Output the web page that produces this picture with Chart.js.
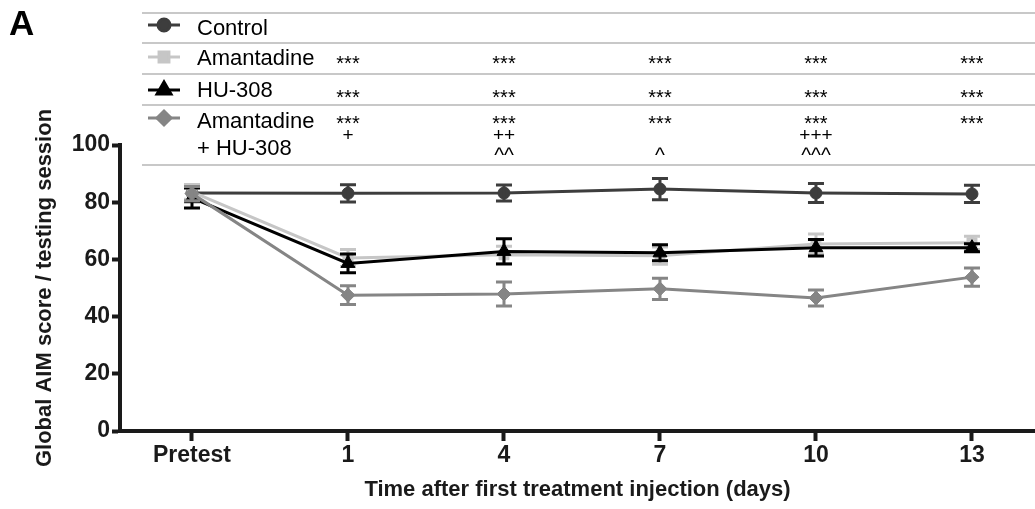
<!DOCTYPE html>
<html>
<head>
<meta charset="utf-8">
<script src="https://cdn.jsdelivr.net/npm/chart.js@4.4.1/dist/chart.umd.min.js"></script>
<style>
    html, body { margin: 0; padding: 0; background: #fff; }
</style>
</head>
<body>
<canvas id="aimChart" width="1035" height="509"></canvas>
<script>
// Categories (x axis)
const days = ['Pretest', '1', '4', '7', '10', '13'];

// Series names
const seriesNames = ['Control', 'Amantadine', 'HU-308', ['Amantadine', '+ HU-308']];

// Mean global AIM scores and SEM
const controlMean = [83.2, 83.1, 83.2, 84.6, 83.2, 82.9];
const controlErr = [3.0, 3.0, 2.8, 3.7, 3.3, 3.0];
const amantadineMean = [83.6, 60.5, 61.6, 61.3, 65.4, 65.8];
const amantadineErr = [2.6, 3.0, 3.0, 3.0, 3.5, 2.3];
const hu308Mean = [81.5, 58.6, 62.8, 62.3, 64.1, 64.1];
const hu308Err = [3.5, 3.3, 4.4, 2.8, 2.9, 1.4];
const comboMean = [83.0, 47.5, 47.9, 49.7, 46.5, 53.8];
const comboErr = [2.5, 3.3, 4.2, 3.7, 2.8, 3.2];

// Significance markers per day
const sigAmantadine = ['', '***', '***', '***', '***', '***'];
const sigHu308 = ['', '***', '***', '***', '***', '***'];
const sigCombo = ['', '***', '***', '***', '***', '***'];
const sigComboPlus = ['', '+', '++', '', '+++', ''];
const sigComboCaret = ['', '', '^^', '^', '^^^', ''];

const FONT = "'Liberation Sans', Arial, Helvetica, sans-serif";
const INK = '#1a1a1a';

function toPoints(values) {
    return values.map((v, i) => ({ x: i, y: v }));
}

// Error bars drawn right after each dataset, using the chart scales
const errorBars = {
    id: 'errorBars',
    afterDatasetDraw(chart, args) {
        const ds = chart.data.datasets[args.index];
        if (!ds.errors) return;
        const ctx = chart.ctx;
        const xs = chart.scales.x, ys = chart.scales.y;
        ctx.save();
        ctx.strokeStyle = ds.borderColor;
        ctx.lineWidth = 3;
        ds.data.forEach((p, i) => {
            const e = ds.errors[i];
            const px = xs.getPixelForValue(p.x);
            const top = ys.getPixelForValue(p.y + e);
            const bot = ys.getPixelForValue(p.y - e);
            ctx.beginPath();
            ctx.moveTo(px, top); ctx.lineTo(px, bot);
            ctx.moveTo(px - 8, top); ctx.lineTo(px + 8, top);
            ctx.moveTo(px - 8, bot); ctx.lineTo(px + 8, bot);
            ctx.stroke();
        });
        ctx.restore();
    }
};

// Legend table with significance symbols above the plot
const legendTable = {
    id: 'legendTable',
    afterDraw(chart) {
        const ctx = chart.ctx;
        const xs = chart.scales.x;
        ctx.save();

        // panel letter
        ctx.fillStyle = '#000';
        ctx.font = 'bold 35px ' + FONT;
        ctx.textBaseline = 'alphabetic';
        ctx.textAlign = 'left';
        ctx.fillText('A', 9, 35);

        // separator lines
        ctx.strokeStyle = '#c8c8c8';
        ctx.lineWidth = 2;
        [13, 43, 74, 105, 165].forEach(y => {
            ctx.beginPath();
            ctx.moveTo(142, y);
            ctx.lineTo(1035, y);
            ctx.stroke();
        });

        // rows: marker + label
        const rows = [
            { y: 25, base: 35 },
            { y: 57, base: 65 },
            { y: 90, base: 97 },
            { y: 118, base: 128 }
        ];
        chart.data.datasets.forEach((ds, i) => {
            const r = rows[i];
            ctx.strokeStyle = ds.borderColor;
            ctx.fillStyle = ds.backgroundColor;
            ctx.lineWidth = 3;
            ctx.beginPath();
            ctx.moveTo(148, r.y);
            ctx.lineTo(180, r.y);
            ctx.stroke();
            Chart.helpers.drawPoint(ctx, {
                pointStyle: ds.pointStyle,
                radius: ds.pointRadius,
                rotation: 0,
                borderWidth: 1
            }, 164, r.y);
            ctx.fillStyle = '#000';
            ctx.font = '22px ' + FONT;
            const label = [].concat(seriesNames[i]);
            label.forEach((t, k) => ctx.fillText(t, 197, r.base + k * 27));
        });

        // significance symbols
        ctx.textAlign = 'center';
        ctx.fillStyle = '#000';
        days.forEach((d, i) => {
            const px = xs.getPixelForValue(i);
            ctx.font = '20px ' + FONT;
            ctx.fillText(sigAmantadine[i], px, 70);
            ctx.fillText(sigHu308[i], px, 104);
            ctx.fillText(sigCombo[i], px, 130);
            ctx.font = '19px ' + FONT;
            ctx.fillText(sigComboPlus[i], px, 141);
            ctx.font = '21px ' + FONT;
            ctx.fillText(sigComboCaret[i], px, 162);
        });
        ctx.restore();
    }
};

const ctx = document.getElementById('aimChart').getContext('2d');

new Chart(ctx, {
    type: 'line',
    data: {
        datasets: [
            {
                label: 'Control',
                data: toPoints(controlMean),
                errors: controlErr,
                borderColor: '#3d3d3d',
                backgroundColor: '#3d3d3d',
                pointStyle: 'circle',
                pointRadius: 6,
                order: 3
            },
            {
                label: 'Amantadine',
                data: toPoints(amantadineMean),
                errors: amantadineErr,
                borderColor: '#c6c6c6',
                backgroundColor: '#c6c6c6',
                pointStyle: 'rect',
                pointRadius: 7,
                order: 2
            },
            {
                label: 'HU-308',
                data: toPoints(hu308Mean),
                errors: hu308Err,
                borderColor: '#000000',
                backgroundColor: '#000000',
                pointStyle: 'triangle',
                pointRadius: 8,
                order: 1
            },
            {
                label: 'Amantadine + HU-308',
                data: toPoints(comboMean),
                errors: comboErr,
                borderColor: '#858585',
                backgroundColor: '#858585',
                pointStyle: 'rectRot',
                pointRadius: 7,
                order: 0
            }
        ]
    },
    options: {
        responsive: false,
        animation: false,
        devicePixelRatio: 1,
        layout: {
            autoPadding: false,
            padding: { top: 145, right: 0, left: 0, bottom: 0 }
        },
        elements: {
            line: { borderWidth: 3, tension: 0, fill: false },
            point: { borderWidth: 1, hoverRadius: 6 }
        },
        plugins: {
            legend: { display: false },
            tooltip: { enabled: false }
        },
        scales: {
            x: {
                type: 'linear',
                min: -0.4615,
                max: 5.404,
                afterBuildTicks: scale => {
                    scale.ticks = days.map((d, i) => ({ value: i }));
                },
                afterFit: scale => {
                    scale.height = 78;
                    scale.paddingLeft = 0;
                    scale.paddingRight = 0;
                },
                border: { width: 4, color: INK },
                grid: { drawOnChartArea: false, tickLength: 10, tickWidth: 4, color: INK },
                ticks: {
                    callback: v => days[v],
                    color: INK,
                    padding: 1,
                    maxRotation: 0,
                    autoSkip: false,
                    font: { family: FONT, size: 23, weight: 'bold' }
                },
                title: {
                    display: true,
                    text: 'Time after first treatment injection (days)',
                    color: INK,
                    padding: { top: 0, bottom: 6 },
                    font: { family: FONT, size: 22, weight: 'bold' }
                }
            },
            y: {
                min: 0,
                max: 100,
                afterFit: scale => { scale.width = 120; },
                border: { width: 4, color: INK },
                grid: { drawOnChartArea: false, tickLength: 8, tickWidth: 4, color: INK },
                ticks: {
                    stepSize: 20,
                    color: INK,
                    padding: 2,
                    font: { family: FONT, size: 23, weight: 'bold' }
                },
                title: {
                    display: true,
                    text: 'Global AIM score / testing session',
                    color: INK,
                    padding: { top: 32, bottom: 0 },
                    font: { family: FONT, size: 22, weight: 'bold' }
                }
            }
        }
    },
    plugins: [errorBars, legendTable]
});
</script>
</body>
</html>
